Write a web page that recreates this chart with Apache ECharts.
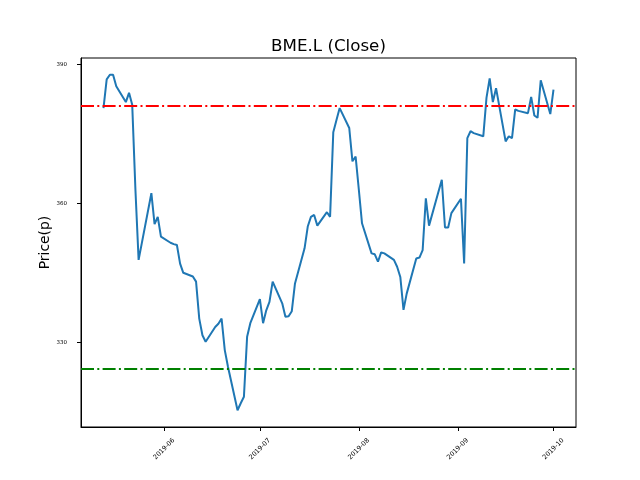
<!DOCTYPE html>
<html><head><meta charset="utf-8">
<script src="https://cdn.jsdelivr.net/npm/echarts@6/dist/echarts.min.js"></script>
<style>html,body{margin:0;padding:0;background:#fff}#c{width:640px;height:480px}</style>
</head><body><div id="c"></div>
<script>
const chartTitle = 'BME.L (Close)';
const yAxisName = 'Price(p)';
const dates = [
  '2019-05-13','2019-05-14','2019-05-15','2019-05-16','2019-05-17','2019-05-20','2019-05-21','2019-05-22','2019-05-23','2019-05-24','2019-05-28','2019-05-29','2019-05-30','2019-05-31',
  '2019-06-03','2019-06-04','2019-06-05','2019-06-06','2019-06-07','2019-06-10','2019-06-11','2019-06-12','2019-06-13','2019-06-14','2019-06-17','2019-06-18','2019-06-19','2019-06-20','2019-06-21','2019-06-24','2019-06-25','2019-06-26','2019-06-27','2019-06-28',
  '2019-07-01','2019-07-02','2019-07-03','2019-07-04','2019-07-05','2019-07-08','2019-07-09','2019-07-10','2019-07-11','2019-07-12','2019-07-15','2019-07-16','2019-07-17','2019-07-18','2019-07-19','2019-07-22','2019-07-23','2019-07-24','2019-07-25','2019-07-26','2019-07-29','2019-07-30','2019-07-31',
  '2019-08-01','2019-08-02','2019-08-05','2019-08-06','2019-08-07','2019-08-08','2019-08-09','2019-08-12','2019-08-13','2019-08-14','2019-08-15','2019-08-16','2019-08-19','2019-08-20','2019-08-21','2019-08-22','2019-08-23','2019-08-27','2019-08-28','2019-08-29','2019-08-30',
  '2019-09-02','2019-09-03','2019-09-04','2019-09-05','2019-09-06','2019-09-09','2019-09-10','2019-09-11','2019-09-12','2019-09-13','2019-09-16','2019-09-17','2019-09-18','2019-09-19','2019-09-20','2019-09-23','2019-09-24','2019-09-25','2019-09-26','2019-09-27','2019-09-30',
  '2019-10-01'
];
const closes = [
  380.6,386.8,387.8,387.8,385.3,381.9,383.9,381.3,363.0,347.8,362.2,355.5,357.1,352.8,
  351.5,351.2,351.0,347.0,345.0,344.2,343.1,335.1,331.5,330.1,333.3,334.0,335.1,328.3,324.7,315.3,316.8,318.2,331.2,334.1,
  339.3,334.1,336.9,338.7,343.1,338.4,335.5,335.6,336.7,342.7,350.3,355.0,357.1,357.5,355.2,358.1,357.1,375.4,378.0,380.6,376.3,369.1,370.1,
  363.0,355.7,349.2,349.0,347.4,349.4,349.2,347.8,346.3,344.1,337.0,340.5,348.1,348.3,349.9,361.1,355.2,365.1,354.8,354.8,357.9,
  361.0,347.0,374.1,375.6,375.2,374.5,382.8,387.0,381.9,384.9,373.4,374.5,374.1,380.3,380.0,379.5,383.0,379.0,378.5,386.6,379.3,
  384.6
];
const upperLevel = 381.0;
const lowerLevel = 324.3;
const yTicks = [330, 360, 390];
const xTickDates = ['2019-06-01','2019-07-01','2019-08-01','2019-09-01','2019-10-01'];
const xTickLabels = ['2019-06','2019-07','2019-08','2019-09','2019-10'];

function ts(s){ const p = s.split('-').map(Number); return Date.UTC(p[0], p[1]-1, p[2]); }
const seriesData = dates.map((d,i)=>[ts(d), closes[i]]);
const t0 = ts(dates[0]), t1 = ts(dates[dates.length-1]);
const xMin = t0 - 0.05*(t1-t0), xMax = t1 + 0.05*(t1-t0);
const vMin = Math.min(...closes), vMax = Math.max(...closes);
const yMin = vMin - 0.05*(vMax-vMin), yMax = vMax + 0.05*(vMax-vMin);
const xTickTs = xTickDates.map(ts);

const font = 'DejaVu Sans';
const chart = echarts.init(document.getElementById('c'), null, {renderer:'canvas'});
chart.setOption({
  animation: false,
  backgroundColor: '#fff',
  title: {
    text: chartTitle, left: 323.5, top: 33, textAlign: 'center',
    textStyle: {fontFamily: font, fontSize: 16.7, fontWeight: 'normal', color: '#000'}
  },
  grid: {left: 81, right: 64, top: 58, bottom: 53, show: true, borderColor: '#000', borderWidth: 1, backgroundColor: 'transparent'},
  xAxis: {
    type: 'value', min: xMin, max: xMax, scale: true,
    axisLine: {show: true, onZero: false, lineStyle: {color: '#000', width: 1}},
    axisTick: {show: true, customValues: xTickTs, length: 4, lineStyle: {color: '#000', width: 1}},
    axisLabel: {
      customValues: xTickTs, rotate: 45, fontSize: 6.5, fontFamily: font, color: '#000',
      align: 'center', verticalAlign: 'middle', margin: 22,
      formatter: function(v){ const i = xTickTs.indexOf(v); return i >= 0 ? xTickLabels[i] : ''; }
    },
    splitLine: {show: false}
  },
  yAxis: {
    type: 'value', min: yMin, max: yMax, scale: true,
    name: yAxisName, nameLocation: 'middle', nameGap: 29, nameRotate: 90, nameMoveOverlap: false,
    nameTextStyle: {fontFamily: font, fontSize: 13.9, color: '#000'},
    axisLine: {show: true, onZero: false, lineStyle: {color: '#000', width: 1}},
    axisTick: {show: true, customValues: yTicks, length: 4, lineStyle: {color: '#000', width: 1}},
    axisLabel: {customValues: yTicks, fontSize: 5.5, fontFamily: font, color: '#000', margin: 14},
    splitLine: {show: false}
  },
  series: [{
    type: 'line', data: seriesData, showSymbol: false, symbol: 'none',
    lineStyle: {color: '#1f77b4', width: 2},
    markLine: {
      silent: true, symbol: ['none','none'], label: {show: false},
      lineStyle: {type: [13, 3.3, 2, 3.3], width: 2},
      data: [
        {yAxis: upperLevel, lineStyle: {color: '#ff0000', type: [13, 3.3, 2, 3.3], width: 2}},
        {yAxis: lowerLevel, lineStyle: {color: '#008000', type: [13, 3.3, 2, 3.3], width: 2}}
      ]
    }
  }]
});
</script></body></html>
